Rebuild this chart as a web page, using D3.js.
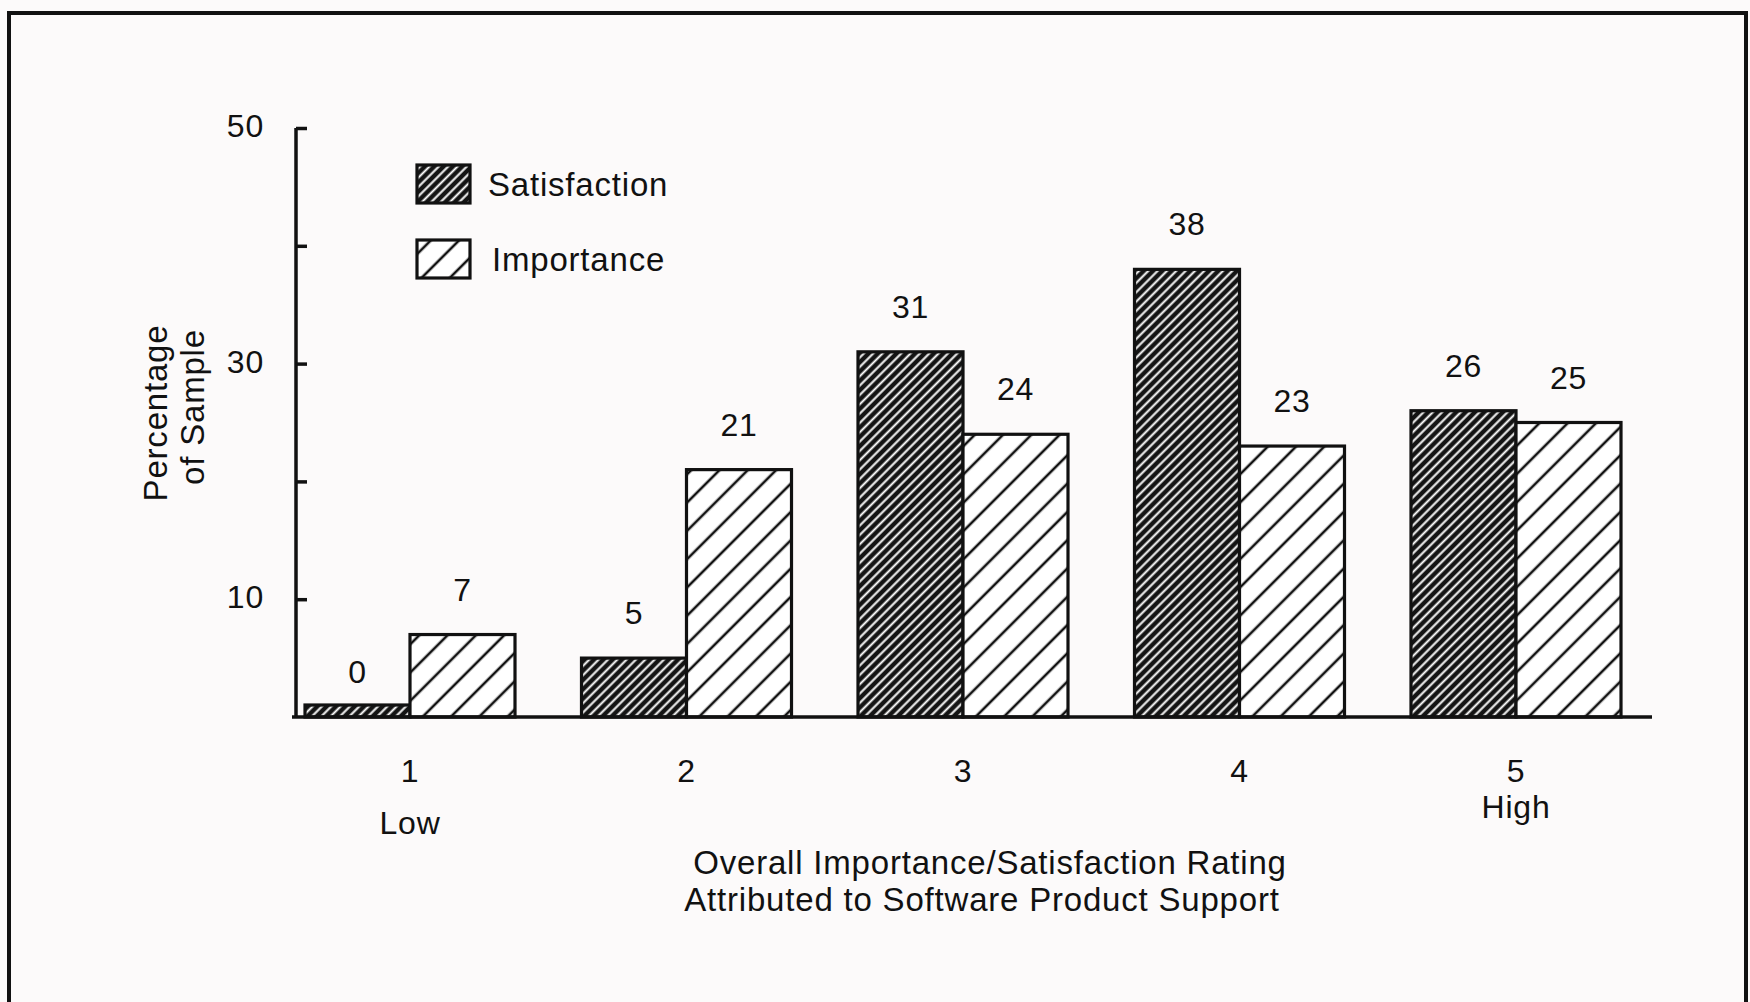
<!DOCTYPE html>
<html>
<head>
<meta charset="utf-8">
<script src="https://cdn.jsdelivr.net/npm/d3@7"></script>
<style>
  html, body { margin: 0; padding: 0; background: #fcfafa; }
  svg { display: block; }
  text { font-family: "Liberation Sans", Arial, Helvetica, sans-serif; fill: #111; letter-spacing: 0.8px; }
</style>
</head>
<body>
<script>
// Ratings on the x axis and the two surveyed series (percent of sample)
const ratings = ["1", "2", "3", "4", "5"];
const ratingNotes = ["Low", "", "", "", "High"];
const seriesNames = ["Satisfaction", "Importance"];
const satisfaction = [0, 5, 31, 38, 26];
const importance = [7, 21, 24, 23, 25];
const yTicks = [10, 20, 30, 40, 50];
const yTickLabels = [10, 30, 50];

const W = 1750, H = 1002;
const ink = "#111";

const svg = d3.select("body").append("svg")
  .attr("width", W).attr("height", H);

// Hatch patterns: dark fill with fine white stripes, and white fill with wide black stripes
const defs = svg.append("defs");
const dense = defs.append("pattern")
  .attr("id", "hatch-dense").attr("patternUnits", "userSpaceOnUse")
  .attr("width", 6.6).attr("height", 6.6)
  .attr("patternTransform", "rotate(45)");
dense.append("rect").attr("width", 6.6).attr("height", 6.6).attr("fill", "#141414");
dense.append("line").attr("x1", 3.3).attr("y1", 0).attr("x2", 3.3).attr("y2", 6.6)
  .attr("stroke", "#fff").attr("stroke-width", 2.0);

const wide = defs.append("pattern")
  .attr("id", "hatch-wide").attr("patternUnits", "userSpaceOnUse")
  .attr("width", 20).attr("height", 20)
  .attr("patternTransform", "rotate(45)");
wide.append("rect").attr("width", 20).attr("height", 20).attr("fill", "#fff");
wide.append("line").attr("x1", 10).attr("y1", 0).attr("x2", 10).attr("y2", 20)
  .attr("stroke", ink).attr("stroke-width", 2.6);

const fills = { Satisfaction: "url(#hatch-dense)", Importance: "url(#hatch-wide)" };

// Page frame
svg.append("path")
  .attr("d", `M9,${H + 5} V13 H1746 V${H + 5}`)
  .attr("fill", "none").attr("stroke", ink).attr("stroke-width", 4);

// Scales
const y = d3.scaleLinear().domain([0, 50]).range([717, 128]);
const x0 = d3.scaleBand().domain(ratings).range([271.75, 1654.25])
  .paddingInner(0.2405).paddingOuter(0.12025);
const x1 = d3.scaleBand().domain(seriesNames).range([0, x0.bandwidth()]).padding(0);

const rows = ratings.map((r, i) => ({
  rating: r,
  values: [
    { series: "Satisfaction", value: satisfaction[i] },
    { series: "Importance", value: importance[i] }
  ]
}));

// Bars (a zero value is shown as a thin stub so the category stays visible)
const stub = 12;
const groups = svg.append("g").selectAll("g").data(rows).join("g")
  .attr("transform", d => `translate(${x0(d.rating)},0)`);

groups.selectAll("rect").data(d => d.values).join("rect")
  .attr("x", d => x1(d.series))
  .attr("width", x1.bandwidth())
  .attr("y", d => Math.min(y(d.value), y(0) - stub))
  .attr("height", d => Math.max(y(0) - y(d.value), stub))
  .attr("fill", d => fills[d.series])
  .attr("stroke", ink).attr("stroke-width", 3.2);

// Value labels above each bar
groups.selectAll("text").data(d => d.values).join("text")
  .attr("x", d => x1(d.series) + x1.bandwidth() / 2)
  .attr("y", d => y(d.value) - 34)
  .attr("text-anchor", "middle")
  .attr("font-size", 32)
  .text(d => d.value);

// Y axis: ticks point inward, labels on every other tick
const yAxis = svg.append("g").attr("transform", "translate(296,0)")
  .call(d3.axisRight(y).tickValues(yTicks).tickSize(11).tickFormat(""));
yAxis.select(".domain").attr("d", `M0,${y(50)}V${y(0)}`)
  .attr("stroke", ink).attr("stroke-width", 3.5);
yAxis.selectAll(".tick line").attr("stroke", ink).attr("stroke-width", 3.5);

svg.append("g").selectAll("text").data(yTickLabels).join("text")
  .attr("x", 264).attr("y", d => y(d) + 9)
  .attr("text-anchor", "end").attr("font-size", 32)
  .text(d => d);

// X axis baseline and rating labels
const xAxis = svg.append("g").attr("transform", `translate(0,${y(0)})`)
  .call(d3.axisBottom(x0).tickSize(0).tickPadding(42));
xAxis.select(".domain").attr("d", "M292,0H1652")
  .attr("stroke", ink).attr("stroke-width", 3.5);
xAxis.selectAll(".tick text")
  .attr("font-size", 32).attr("fill", ink)
  .style("font-family", "'Liberation Sans', Arial, sans-serif");

svg.append("g").selectAll("text").data(ratings).join("text")
  .attr("x", d => x0(d) + x0.bandwidth() / 2)
  .attr("y", (d, i) => i === 0 ? 834 : 818)
  .attr("text-anchor", "middle").attr("font-size", 32)
  .text((d, i) => ratingNotes[i]);

// Axis titles
svg.append("text").attr("x", 990).attr("y", 874)
  .attr("text-anchor", "middle").attr("font-size", 33)
  .text("Overall Importance/Satisfaction Rating");
svg.append("text").attr("x", 982).attr("y", 911)
  .attr("text-anchor", "middle").attr("font-size", 33)
  .text("Attributed to Software Product Support");

const yTitle = svg.append("text")
  .attr("transform", "translate(156,413) rotate(-90)")
  .attr("text-anchor", "middle").attr("font-size", 33);
yTitle.append("tspan").attr("x", 0).attr("dy", 11).text("Percentage");
yTitle.append("tspan").attr("x", 6).attr("dy", 37).text("of Sample");

// Legend
const legend = svg.append("g").selectAll("g").data(seriesNames).join("g")
  .attr("transform", (d, i) => `translate(417,${165 + i * 75})`);
legend.append("rect")
  .attr("width", 53).attr("height", 38)
  .attr("fill", d => fills[d])
  .attr("stroke", ink).attr("stroke-width", 3.2);
legend.append("text")
  .attr("x", (d, i) => i === 0 ? 71 : 75).attr("y", 31)
  .attr("font-size", 33)
  .text(d => d);
</script>
</body>
</html>
